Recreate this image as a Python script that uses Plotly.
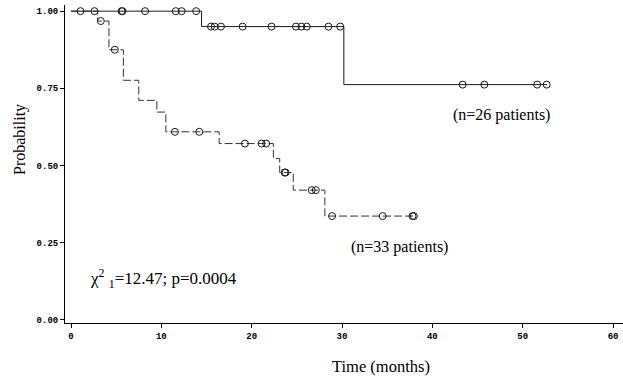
import plotly.graph_objects as go

# Group 1 (n=26) - solid line
g1_times = [0, 14.45, 30.2, 52.7]
g1_surv = [1.00, 0.950, 0.762, 0.762]
g1_cens = [1.05, 2.6, 5.6, 5.7, 8.2, 11.6, 12.25, 13.85,
           15.5, 15.9, 16.6, 19.0, 22.2, 24.9, 25.5, 26.1, 28.5, 29.8,
           43.35, 45.75, 51.6, 52.65]

# Group 2 (n=33) - dashed line
g2_times = [0, 2.95, 4.2, 5.8, 7.5, 9.5, 10.5, 16.4, 22.4, 23.1, 24.6, 28.1, 37.95]
g2_surv = [1.00, 0.968, 0.875, 0.776, 0.711, 0.673, 0.609, 0.571, 0.523, 0.477, 0.420, 0.336, 0.336]
g2_cens = [3.3, 4.85, 11.5, 14.2, 19.25, 21.1, 21.6, 23.65, 23.75, 26.65, 27.1,
           28.9, 34.5, 37.8, 37.95]

x_ticks = [0, 10, 20, 30, 40, 50, 60]
y_ticks = [0.0, 0.25, 0.5, 0.75, 1.0]
y_ticklabels = ["0.00", "0.25", "0.50", "0.75", "1.00"]


def level_at(times, surv, t):
    val = surv[0]
    for tt, s in zip(times, surv):
        if tt <= t:
            val = s
    return val


fig = go.Figure()
fig.add_trace(go.Scatter(x=g1_times, y=g1_surv, mode="lines", line_shape="hv",
                         line=dict(color="#1a1a1a", width=1), showlegend=False))
fig.add_trace(go.Scatter(x=g2_times, y=g2_surv, mode="lines", line_shape="hv",
                         line=dict(color="#333333", width=1, dash="8px,3px"), showlegend=False))
fig.add_trace(go.Scatter(x=g1_cens, y=[level_at(g1_times, g1_surv, t) for t in g1_cens],
                         mode="markers", marker=dict(symbol="circle-open", size=7,
                                                     color="#1a1a1a", line=dict(width=1)),
                         showlegend=False))
fig.add_trace(go.Scatter(x=g2_cens, y=[level_at(g2_times, g2_surv, t) for t in g2_cens],
                         mode="markers", marker=dict(symbol="circle-open", size=7,
                                                     color="#1a1a1a", line=dict(width=1)),
                         showlegend=False))

tickfont = dict(family="Liberation Mono", size=9, color="black")
serif = "Liberation Serif"

fig.update_layout(
    width=623, height=380,
    margin=dict(l=65, r=0, t=5, b=57),
    plot_bgcolor="white", paper_bgcolor="white",
    xaxis=dict(range=[-0.664, 61.1], tickvals=x_ticks,
               ticktext=["<b>%d</b>" % v for v in x_ticks],
               showline=True, linecolor="black", linewidth=1,
               ticks="outside", ticklen=4, tickcolor="black", tickwidth=1,
               showgrid=False, zeroline=False, tickfont=tickfont),
    yaxis=dict(range=[-0.0105, 1.02], tickvals=y_ticks,
               ticktext=["<b>%s</b>" % s for s in y_ticklabels],
               showline=True, linecolor="black", linewidth=1,
               ticks="outside", ticklen=4, tickcolor="black", tickwidth=1,
               showgrid=False, zeroline=False, tickfont=tickfont),
    annotations=[
        dict(text="Probability", x=20, y=140, showarrow=False,
             textangle=-90, font=dict(family=serif, size=16, color="black")),
        dict(text="Time (months)", x=381, y=366, showarrow=False,
             font=dict(family=serif, size=16.5, color="black")),
        dict(text="(n=26 patients)", x=501, y=115, showarrow=False,
             font=dict(family=serif, size=16, color="black")),
        dict(text="(n=33 patients)", x=399.5, y=246.5, showarrow=False,
             font=dict(family=serif, size=16, color="black")),
        dict(text="χ<sup>2</sup> <sub>1</sub>=12.47; p=0.0004", x=163.5, y=278, showarrow=False,
             font=dict(family=serif, size=17, color="black")),
    ],
)

# convert pixel annotation positions to paper coordinates
plot_l, plot_r = 65, 623
plot_t, plot_b = 5, 380 - 57
new_ann = []
for a in fig.layout.annotations:
    px, py = a.x, a.y
    a.xref = "paper"
    a.yref = "paper"
    a.x = (px - plot_l) / (plot_r - plot_l)
    a.y = (plot_b - py) / (plot_b - plot_t)
    a.xanchor = "center"
    a.yanchor = "middle"
    new_ann.append(a)
fig.layout.annotations = new_ann

fig.write_html("out.html")
